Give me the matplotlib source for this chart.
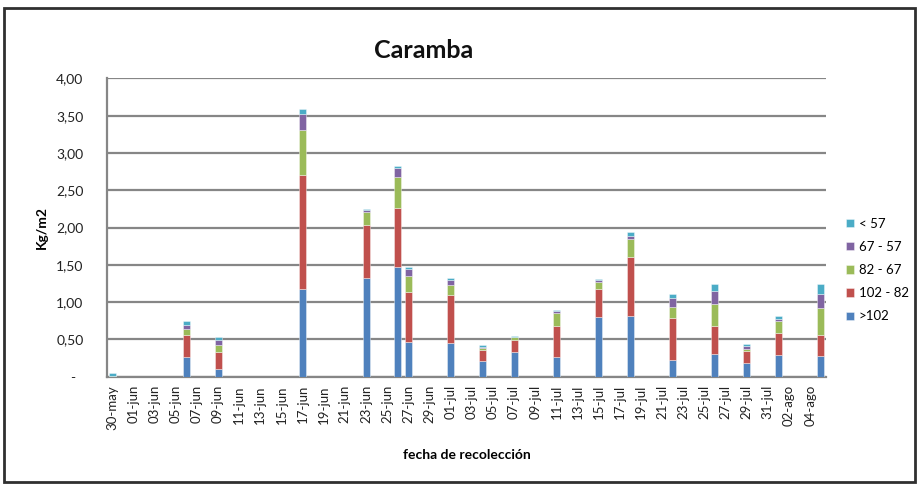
import numpy as np
import matplotlib
matplotlib.use("Agg")
import matplotlib.pyplot as plt
from matplotlib.patches import Rectangle

plt.rcParams['font.family'] = ['Lato', 'DejaVu Sans']

# ---- data ----
start_date = '2010-05-30'
end_date = '2010-08-05'
dates = ['2010-05-30', '2010-06-06', '2010-06-09', '2010-06-17', '2010-06-23',
         '2010-06-26', '2010-06-27', '2010-07-01', '2010-07-04', '2010-07-07',
         '2010-07-11', '2010-07-15', '2010-07-18', '2010-07-22', '2010-07-26',
         '2010-07-29', '2010-08-01', '2010-08-05']
gt102 = [0.00, 0.26, 0.10, 1.17, 1.33, 1.47, 0.46, 0.45, 0.21, 0.33,
         0.26, 0.80, 0.81, 0.23, 0.30, 0.18, 0.29, 0.275]
r102_82 = [0.00, 0.30, 0.23, 1.53, 0.71, 0.79, 0.68, 0.65, 0.15, 0.16,
           0.42, 0.37, 0.79, 0.56, 0.375, 0.17, 0.29, 0.29]
r82_67 = [0.015, 0.08, 0.10, 0.61, 0.17, 0.42, 0.21, 0.13, 0.03, 0.04,
          0.17, 0.10, 0.25, 0.15, 0.305, 0.025, 0.17, 0.36]
r67_57 = [0.00, 0.05, 0.06, 0.21, 0.02, 0.12, 0.09, 0.06, 0.01, 0.005,
          0.03, 0.03, 0.04, 0.11, 0.175, 0.04, 0.03, 0.18]
lt57 = [0.035, 0.06, 0.04, 0.07, 0.015, 0.02, 0.03, 0.03, 0.02, 0.01,
        0.02, 0.01, 0.05, 0.06, 0.085, 0.025, 0.03, 0.135]
series_names = ['>102', '102 - 82', '82 - 67', '67 - 57', '< 57']
series_colors = ['#4F81BD', '#C0504D', '#9BBB59', '#8064A2', '#4BACC6']
tick_labels = ['30-may', '01-jun', '03-jun', '05-jun', '07-jun', '09-jun', '11-jun',
               '13-jun', '15-jun', '17-jun', '19-jun', '21-jun', '23-jun', '25-jun',
               '27-jun', '29-jun', '01-jul', '03-jul', '05-jul', '07-jul', '09-jul',
               '11-jul', '13-jul', '15-jul', '17-jul', '19-jul', '21-jul', '23-jul',
               '25-jul', '27-jul', '29-jul', '31-jul', '02-ago', '04-ago']
y_ticks = [0, 0.5, 1.0, 1.5, 2.0, 2.5, 3.0, 3.5, 4.0]
y_tick_labels = ['-  ', '0,50', '1,00', '1,50', '2,00', '2,50', '3,00', '3,50', '4,00']

# ---- positions (days since start) ----
d0 = np.datetime64(start_date)
x = (np.array(dates, dtype='datetime64[D]') - d0).astype(int)
n_days = int((np.datetime64(end_date) - d0).astype(int)) + 1
tick_pos = np.arange(0, 2 * len(tick_labels), 2)

fig = plt.figure(figsize=(9.18, 4.86), dpi=100)
ax = fig.add_axes([107 / 918, 1 - 376.7 / 486, (826 - 107) / 918, (376.7 - 78.4) / 486])

bottom = np.zeros(len(x))
handles = []
for vals, name, col in zip([gt102, r102_82, r82_67, r67_57, lt57], series_names, series_colors):
    v = np.array(vals)
    h = ax.bar(x, v, bottom=bottom, width=0.66, color=col, label=name,
               edgecolor=(1, 1, 1, 0.45), linewidth=0.6, zorder=3)
    handles.append(h)
    bottom += v

ax.set_xlim(-0.5, n_days - 0.5)
ax.set_ylim(0, 4.0)
ax.set_yticks(y_ticks)
ax.set_yticklabels(y_tick_labels, fontsize=10, color='#222222')
ax.set_xticks(tick_pos)
ax.set_xticklabels(tick_labels, rotation=90, fontsize=9.5, color='#222222')
ax.tick_params(axis='both', length=0)
ax.tick_params(axis='y', pad=17)
ax.tick_params(axis='x', pad=6)

ax.yaxis.grid(True, color='#868686', linewidth=1.6, zorder=0)
ax.set_axisbelow(True)
for s in ['top', 'right']:
    ax.spines[s].set_visible(False)
for s in ['left', 'bottom']:
    ax.spines[s].set_color('#868686')
    ax.spines[s].set_linewidth(1.6)

ax.set_ylabel('Kg/m2', fontsize=10, fontweight='bold', labelpad=6)
ax.set_xlabel('fecha de recolección', fontsize=10, fontweight='bold', labelpad=14)
fig.text(424 / 918, 1 - 50 / 486, 'Caramba', fontsize=18, fontweight='bold',
         ha='center', va='center', color='#111111')

leg = fig.legend(handles[::-1], series_names[::-1], loc='center left',
                 bbox_to_anchor=(0.912, 1 - 270 / 486), frameon=False,
                 fontsize=9.5, handlelength=0.6, handleheight=0.6,
                 handletextpad=0.35, labelspacing=0.85, borderpad=0.2)

fig.patches.append(Rectangle((4 / 918, 4 / 486), 911 / 918, 474 / 486,
                             transform=fig.transFigure, fill=False,
                             edgecolor='#303030', linewidth=2))

fig.savefig('out.png', dpi=100)
